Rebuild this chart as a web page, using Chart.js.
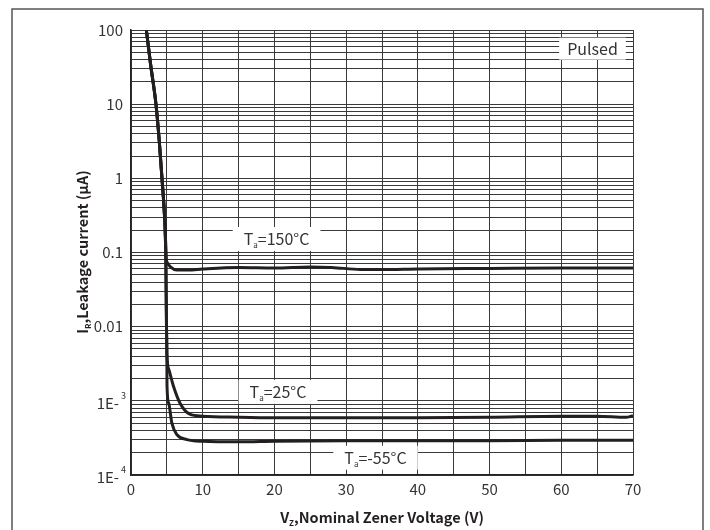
<!DOCTYPE html>
<html>
<head>
<meta charset="utf-8">
<script src="https://cdn.jsdelivr.net/npm/chart.js@4.4.1/dist/chart.umd.min.js"></script>
<style>
  html, body { margin: 0; padding: 0; background: #fff; }
</style>
</head>
<body>
<canvas id="grafico" width="710" height="530"></canvas>
<script>
// leakage current vs nominal zener voltage
const volt150 = [2.15, 2.74, 3.48, 3.95, 4.32, 4.69, 4.9, 5.1, 5.5, 6.4, 8, 10, 15, 20, 25, 28, 32, 35, 40, 50, 60, 70];
const curr150 = [98, 34, 10, 3.1, 1, 0.29, 0.085, 0.072, 0.064, 0.058, 0.058, 0.06, 0.063, 0.062, 0.064, 0.063, 0.059, 0.059, 0.06, 0.061, 0.062, 0.062];

const volt25 = [2.15, 2.74, 3.48, 3.95, 4.32, 4.69, 4.85, 4.9, 4.95, 5.0, 5.3, 5.9, 6.84, 8.2, 10, 15, 20, 30, 40, 50, 60, 65, 69, 70];
const curr25 = [98, 34, 10, 3.1, 1, 0.29, 0.1, 0.03, 0.01, 0.0044, 0.0026, 0.0016, 0.00093, 0.00066, 0.00062, 0.0006, 0.00059, 0.00059, 0.00059, 0.0006, 0.00062, 0.00062, 0.0006, 0.00063];

const voltM55 = [2.15, 2.74, 3.48, 3.95, 4.32, 4.69, 4.85, 4.9, 4.95, 5.0, 5.02, 5.25, 5.7, 6.4, 7.8, 10, 15, 20, 30, 40, 50, 60, 70];
const currM55 = [98, 34, 10, 3.1, 1, 0.29, 0.1, 0.03, 0.01, 0.0044, 0.0016, 0.00093, 0.0005, 0.00035, 0.0003, 0.000285, 0.00028, 0.000285, 0.00029, 0.00029, 0.00029, 0.000295, 0.000295];

const seriesNames = ["150°C", "25°C", "-55°C"];

const xTickLabels = ["0", "10", "20", "30", "40", "50", "60", "70"];
const yDecades = [100, 10, 1, 0.1, 0.01, 0.001, 0.0001];
const yTickLabels = ["100", "10", "1", "0.1", "0.01", "1E-3", "1E-4"];

// where each note box sits, in chart units
const noteVolt = [20.3, 20.5, 34.1];
const noteCurr = [0.152, 0.00132, 0.000171];
const pulsedAt = { v: 64.35, i: 56 };

const FONT = '"Noto Sans CJK SC", "Noto Sans", sans-serif';
const INK = "#231f20";
const TEXT = "#333";

function puntos(xs, ys) {
  return xs.map((x, i) => ({ x: x, y: ys[i] }));
}

function gridValues() {
  const vals = [];
  yDecades.slice(1).forEach(d => {
    for (let m = 1; m <= 9; m++) vals.push(m * d);
  });
  vals.push(yDecades[0]);
  return vals;
}

function drawParts(ctx, parts, cx, baseY, weight) {
  let total = 0;
  parts.forEach(p => {
    ctx.font = `${weight} ${p.size}px ${FONT}`;
    p.w = ctx.measureText(p.t).width;
    total += p.w;
  });
  let x = cx - total / 2;
  ctx.textAlign = "left";
  ctx.textBaseline = "alphabetic";
  parts.forEach(p => {
    ctx.font = `${weight} ${p.size}px ${FONT}`;
    ctx.fillText(p.t, x, baseY + (p.dy || 0));
    x += p.w;
  });
  return total;
}

function noteBox(ctx, parts, cx, cy, padX, h) {
  ctx.save();
  let total = 0;
  parts.forEach(p => {
    ctx.font = `400 ${p.size}px ${FONT}`;
    total += ctx.measureText(p.t).width;
  });
  ctx.fillStyle = "#fff";
  ctx.fillRect(cx - total / 2 - padX, cy - h / 2, total + padX * 2, h);
  ctx.fillStyle = TEXT;
  drawParts(ctx, parts, cx, cy + 6, "400");
  ctx.restore();
}

const textPlugin = {
  id: "textos",
  beforeDraw(chart) {
    const ctx = chart.ctx;
    ctx.save();
    ctx.fillStyle = "#fff";
    ctx.fillRect(0, 0, chart.width, chart.height);
    ctx.restore();
  },
  beforeDatasetsDraw(chart) {
    const ctx = chart.ctx;
    const xs = chart.scales.x;
    const ys = chart.scales.y;
    seriesNames.forEach((name, i) => {
      noteBox(ctx, [
        { t: "T", size: 16 },
        { t: "a", size: 8, dy: 3 },
        { t: "=" + name, size: 16 }
      ], xs.getPixelForValue(noteVolt[i]), ys.getPixelForValue(noteCurr[i]), 11, 24);
    });
    noteBox(ctx, [{ t: "Pulsed", size: 16 }],
      xs.getPixelForValue(pulsedAt.v), ys.getPixelForValue(pulsedAt.i), 8, 22);
  },
  afterDraw(chart) {
    const ctx = chart.ctx;
    const ys = chart.scales.y;
    const area = chart.chartArea;

    // E-notation tick labels with raised exponent
    ctx.save();
    ctx.fillStyle = TEXT;
    yTickLabels.forEach((lab, i) => {
      if (!lab.includes("E")) return;
      const [mant, exp] = lab.split("-");
      const y = ys.getPixelForValue(yDecades[i]);
      ctx.textBaseline = "middle";
      ctx.textAlign = "right";
      ctx.font = `400 9px ${FONT}`;
      const ew = ctx.measureText(exp).width;
      ctx.fillText(exp, area.left - 5, y - 5);
      ctx.font = `400 15px ${FONT}`;
      ctx.fillText(mant + "-", area.left - 7 - ew, y + 2.5);
    });
    ctx.restore();

    // axis titles with subscripts
    ctx.save();
    ctx.fillStyle = INK;
    drawParts(ctx, [
      { t: "V", size: 14.5 },
      { t: "Z", size: 8, dy: 3 },
      { t: ",Nominal Zener Voltage (V)", size: 14.5 }
    ], (area.left + area.right) / 2, 523, "700");
    ctx.translate(83, 252);
    ctx.rotate(-Math.PI / 2);
    drawParts(ctx, [
      { t: "I", size: 14.5 },
      { t: "R", size: 8, dy: 3 },
      { t: ",Leakage current (\u03bcA)", size: 14.5 }
    ], 0, 5, "700");
    ctx.restore();

    // outer frame
    ctx.save();
    ctx.strokeStyle = "#555";
    ctx.lineWidth = 1.5;
    ctx.strokeRect(12, 9, 691, 560);
    ctx.restore();
  }
};

function lineSet(data) {
  return {
    data: data,
    showLine: true,
    borderColor: INK,
    borderWidth: 3,
    pointRadius: 0,
    fill: false,
    cubicInterpolationMode: "monotone"
  };
}

const ctx = document.getElementById("grafico").getContext("2d");
new Chart(ctx, {
  type: "scatter",
  data: {
    datasets: [
      lineSet(puntos(volt150, curr150)),
      lineSet(puntos(volt25, curr25)),
      lineSet(puntos(voltM55, currM55))
    ]
  },
  options: {
    responsive: false,
    animation: false,
    layout: { padding: { top: 30, right: 77, left: 0, bottom: 0 } },
    plugins: {
      legend: { display: false },
      tooltip: { enabled: false }
    },
    scales: {
      x: {
        type: "linear",
        min: 0,
        max: 70,
        afterFit: s => { s.height = 55; },
        ticks: {
          stepSize: 5,
          autoSkip: false,
          maxRotation: 0,
          padding: 5,
          color: TEXT,
          font: { family: FONT, size: 15 },
          callback: v => (v % 10 === 0 ? xTickLabels[v / 10] : "")
        },
        grid: { color: "#3a3a3a", lineWidth: 1, drawTicks: false },
        border: { color: "#222", width: 1.5 }
      },
      y: {
        type: "logarithmic",
        min: 0.0001,
        max: 100,
        afterFit: s => { s.width = 131; },
        afterBuildTicks: s => { s.ticks = gridValues().map(v => ({ value: v })); },
        ticks: {
          autoSkip: false,
          padding: 8,
          color: TEXT,
          font: { family: FONT, size: 15 },
          callback: v => {
            const i = yDecades.indexOf(v);
            return i >= 0 && !yTickLabels[i].includes("E") ? yTickLabels[i] : "";
          }
        },
        grid: { color: "#3a3a3a", lineWidth: 1, drawTicks: false },
        border: { color: "#222", width: 1.5 }
      }
    }
  },
  plugins: [textPlugin]
});
</script>
</body>
</html>
